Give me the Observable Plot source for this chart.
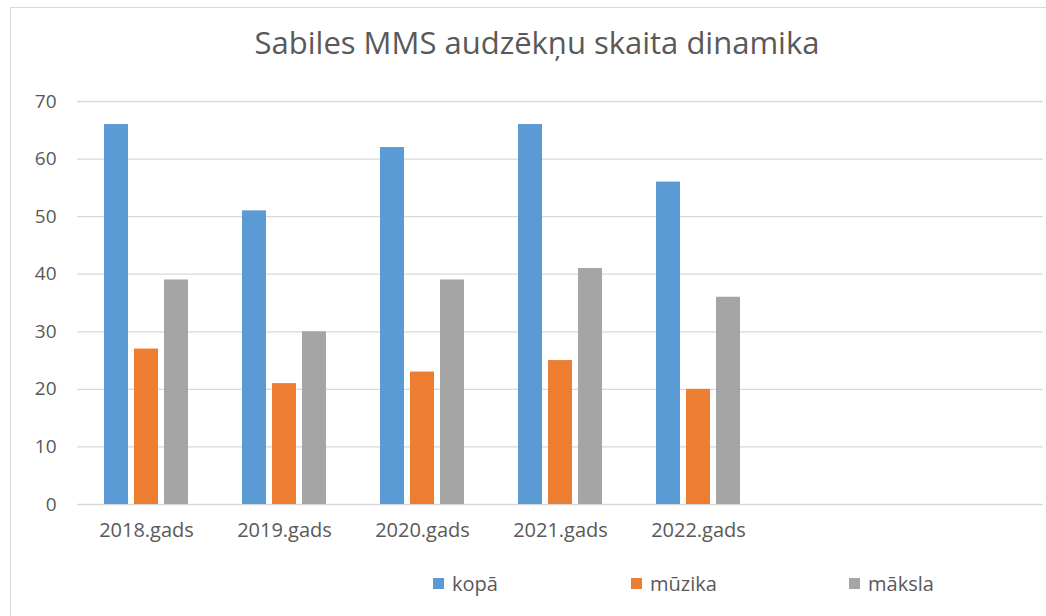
<!DOCTYPE html>
<html>
<head>
<meta charset="utf-8">
<script src="https://cdn.jsdelivr.net/npm/d3@7"></script>
<script src="https://cdn.jsdelivr.net/npm/@observablehq/plot@0.6"></script>
<style>
  html, body { margin: 0; padding: 0; background: #fff; overflow: hidden; }
  body { width: 1046px; height: 616px; position: relative; font-family: "Open Sans", sans-serif; color: #595959; }
  #frame { position: absolute; left: 10px; top: 7px; width: 1100px; height: 700px; border: 1px solid #d9d9d9; box-sizing: border-box; }
  #title { position: absolute; left: 0; width: 1074px; top: 21px; text-align: center; font-size: 31px; color: #595959; white-space: nowrap; }
  #chart { position: absolute; left: 0; top: 80px; }
  .leg { position: absolute; top: 570px; font-size: 20px; color: #595959; display: flex; align-items: center; white-space: nowrap; }
  .leg span.sw { display: inline-block; width: 11px; height: 11px; margin-right: 8px; }
</style>
</head>
<body>
<div id="frame"></div>
<div id="title">Sabiles MMS audzēkņu skaita dinamika</div>
<div id="chart"></div>
<div id="legend"></div>
<script>
// ---- data ----
const years = ["2018.gads", "2019.gads", "2020.gads", "2021.gads", "2022.gads"];
const emptySlots = ["slot6", "slot7"];
const series = ["kopā", "mūzika", "māksla"];
const kopa   = [66, 51, 62, 66, 56];
const muzika = [27, 21, 23, 25, 20];
const maksla = [39, 30, 39, 41, 36];
const colors = ["#5B9BD5", "#ED7D31", "#A5A5A5"];
const yTicks = [0, 10, 20, 30, 40, 50, 60, 70];

const slots = [...years, ...emptySlots];
const table = [];
years.forEach((yr, i) => {
  table.push({year: yr, series: series[0], value: kopa[i]});
  table.push({year: yr, series: series[1], value: muzika[i]});
  table.push({year: yr, series: series[2], value: maksla[i]});
});
const grid = [];
slots.forEach(s => yTicks.forEach(t => grid.push({year: s, tick: t})));

const plot = Plot.plot({
  width: 1046,
  height: 480,
  marginLeft: 76,
  marginRight: 3,
  marginTop: 21,
  marginBottom: 56,
  style: {fontFamily: "Open Sans, sans-serif", color: "#595959", background: "transparent"},
  fx: {domain: slots, padding: 0, label: null, axis: null},
  x: {domain: series, paddingInner: 0.2, paddingOuter: 0.87, axis: null},
  y: {domain: [0, 70], label: null, axis: null},
  color: {domain: series, range: colors},
  marks: [
    Plot.ruleY(grid, {fx: "year", y: "tick", stroke: "#d9d9d9", strokeWidth: 1.3}),
    Plot.barY(table, {fx: "year", x: "series", y: "value", fill: "series"}),
    Plot.axisY(yTicks, {tickSize: 0, tickPadding: 21, fontSize: 19, fill: "#595959", label: null}),
    Plot.axisFx({anchor: "bottom", tickSize: 0, tickPadding: 18, fontSize: 20, fill: "#595959", label: null,
                 tickFormat: d => years.includes(d) ? d : ""})
  ]
});
document.getElementById("chart").appendChild(plot);

// legend
const legPos = [433, 631, 849];
const legend = document.getElementById("legend");
series.forEach((s, i) => {
  const el = document.createElement("div");
  el.className = "leg";
  el.style.left = legPos[i] + "px";
  el.innerHTML = `<span class="sw" style="background:${colors[i]}"></span>${s}`;
  legend.appendChild(el);
});
</script>
</body>
</html>
